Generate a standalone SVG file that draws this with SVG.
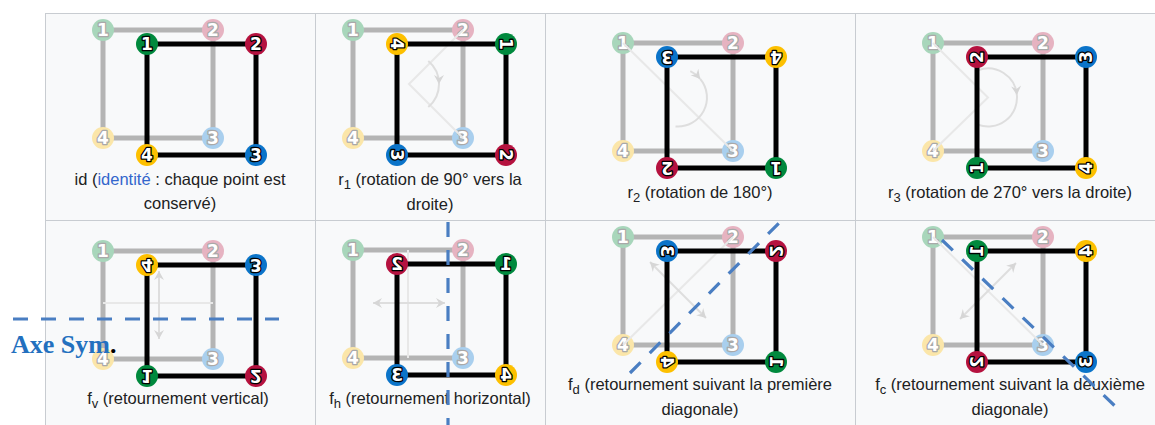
<svg xmlns="http://www.w3.org/2000/svg" width="1155" height="425" viewBox="0 0 1155 425">
<style>
.tb{fill:#f8f9fa;stroke:#c8ccd1;stroke-width:1}
.div{stroke:#c8ccd1;stroke-width:1}
.ge{fill:none;stroke:#b4b4b4;stroke-width:5}
.be{fill:none;stroke:#000;stroke-width:5}
.fl{fill:none;stroke:#e8e8e8;stroke-width:2}
.fa{fill:none;stroke:#dedede;stroke-width:2}
.n1{fill:#00893d}.n2{fill:#b5123f}.n3{fill:#0b74c9}.n4{fill:#fdc000}
.p1{fill:#a8d6bb}.p2{fill:#e6b3c1}.p3{fill:#a9cfee}.p4{fill:#fbe6a9}
.dg{font-family:"DejaVu Sans",sans-serif;font-weight:bold;font-size:17px;fill:#fff;stroke:#000;stroke-width:2.6;stroke-linejoin:round;paint-order:stroke;text-anchor:middle}
.gd{font-family:"DejaVu Sans",sans-serif;font-weight:bold;font-size:17px;fill:#fff;stroke:#a9a9a9;stroke-width:2.6;stroke-linejoin:round;paint-order:stroke;text-anchor:middle}
.cap{font-family:"Liberation Sans",Arial,sans-serif;font-size:16.5px;fill:#202122;text-anchor:middle}
.lnk{fill:#3366cc}
.ax{fill:none;stroke:#4a7ec2;stroke-width:3.2;stroke-dasharray:15 13}
.axt{font-family:"Liberation Serif","Times New Roman",serif;font-weight:bold;font-size:26px}
</style>
<defs>
<marker id="fam" viewBox="-10 -6 12 12" markerWidth="12" markerHeight="12" refX="0" refY="0" orient="auto-start-reverse" markerUnits="userSpaceOnUse"><path d="M0,0 L-9,-5 L-6,0 L-9,5 Z" fill="#d6d6d6"/></marker>
<g id="ghost">
<rect class="ge" x="0" y="0" width="110" height="108"/>
<g transform="translate(0,0)"><circle r="11" class="p1"/><text class="gd" y="6.2">1</text></g>
<g transform="translate(110,0)"><circle r="11" class="p2"/><text class="gd" y="6.2">2</text></g>
<g transform="translate(110,108)"><circle r="11" class="p3"/><text class="gd" y="6.2">3</text></g>
<g transform="translate(0,108)"><circle r="11" class="p4"/><text class="gd" y="6.2">4</text></g>
</g>
</defs>

<g id="table">
<rect class="tb" x="45.5" y="13.5" width="1130" height="420"/>
<line class="div" x1="315.5" y1="13.5" x2="315.5" y2="425"/>
<line class="div" x1="545.5" y1="13.5" x2="545.5" y2="425"/>
<line class="div" x1="855.5" y1="13.5" x2="855.5" y2="425"/>
<line class="div" x1="45.5" y1="220.5" x2="1155" y2="220.5"/>
</g>

<!-- id -->
<g id="cell-id" transform="translate(103,30)">
<use href="#ghost"/>
<g id="id-edges"><rect class="be" x="44" y="14" width="109" height="111"/></g>
<g id="id-1" transform="translate(44,14)"><circle r="11" class="n1"/><text class="dg" y="6.2">1</text></g>
<g id="id-2" transform="translate(153,14)"><circle r="11" class="n2"/><text class="dg" y="6.2">2</text></g>
<g id="id-3" transform="translate(153,125)"><circle r="11" class="n3"/><text class="dg" y="6.2">3</text></g>
<g id="id-4" transform="translate(44,125)"><circle r="11" class="n4"/><text class="dg" y="6.2">4</text></g>
</g>

<!-- r1 -->
<g id="cell-r1" transform="translate(353,30)">
<use href="#ghost"/>
<path class="fl" d="M110,0 L56,54 L110,108"/>
<path class="fa" d="M75.3,31 A30,30 0 0 1 86,54" marker-end="url(#fam)"/>
<path class="fa" d="M86,54 A30,30 0 0 1 75.3,77"/>
<g id="r1-edges"><rect class="be" x="44" y="14" width="109" height="111"/></g>
<g id="r1-4" transform="translate(44,14)"><circle r="11" class="n4"/><text class="dg" y="6.2" transform="rotate(90)">4</text></g>
<g id="r1-1" transform="translate(153,14)"><circle r="11" class="n1"/><text class="dg" y="6.2" transform="rotate(90)">1</text></g>
<g id="r1-2" transform="translate(153,125)"><circle r="11" class="n2"/><text class="dg" y="6.2" transform="rotate(90)">2</text></g>
<g id="r1-3" transform="translate(44,125)"><circle r="11" class="n3"/><text class="dg" y="6.2" transform="rotate(90)">3</text></g>
</g>

<!-- r2 -->
<g id="cell-r2" transform="translate(623,43)">
<use href="#ghost"/>
<path class="fl" d="M0,0 L110,108"/>
<path class="fa" d="M67.3,28.2 A29,29 0 0 1 77.2,35.9" marker-end="url(#fam)"/>
<path class="fa" d="M77.2,35.9 A29,29 0 0 1 52.5,83.4"/>
<g id="r2-edges"><rect class="be" x="44" y="14" width="109" height="111"/></g>
<g id="r2-3" transform="translate(44,14)"><circle r="11" class="n3"/><text class="dg" y="6.2" transform="rotate(180)">3</text></g>
<g id="r2-4" transform="translate(153,14)"><circle r="11" class="n4"/><text class="dg" y="6.2" transform="rotate(180)">4</text></g>
<g id="r2-1" transform="translate(153,125)"><circle r="11" class="n1"/><text class="dg" y="6.2" transform="rotate(180)">1</text></g>
<g id="r2-2" transform="translate(44,125)"><circle r="11" class="n2"/><text class="dg" y="6.2" transform="rotate(180)">2</text></g>
</g>

<!-- r3 -->
<g id="cell-r3" transform="translate(933,43)">
<use href="#ghost"/>
<path class="fl" d="M0,0 L55,54.5 L0,108"/>
<path class="fa" d="M45.1,27.2 A29,29 0 0 1 83.9,52" marker-end="url(#fam)"/>
<path class="fa" d="M83.9,52 A29,29 0 0 1 45.1,81.8"/>
<g id="r3-edges"><rect class="be" x="44" y="14" width="109" height="111"/></g>
<g id="r3-2" transform="translate(44,14)"><circle r="11" class="n2"/><text class="dg" y="6.2" transform="rotate(270)">2</text></g>
<g id="r3-3" transform="translate(153,14)"><circle r="11" class="n3"/><text class="dg" y="6.2" transform="rotate(270)">3</text></g>
<g id="r3-4" transform="translate(153,125)"><circle r="11" class="n4"/><text class="dg" y="6.2" transform="rotate(270)">4</text></g>
<g id="r3-1" transform="translate(44,125)"><circle r="11" class="n1"/><text class="dg" y="6.2" transform="rotate(270)">1</text></g>
</g>

<!-- fv -->
<g id="cell-fv" transform="translate(103,251)">
<use href="#ghost"/>
<path class="fl" d="M0,52 L110,52"/>
<path class="fa" d="M56,20 L56,88" marker-start="url(#fam)" marker-end="url(#fam)"/>
<g id="fv-edges"><rect class="be" x="44" y="14" width="109" height="111"/></g>
<g id="fv-4" transform="translate(44,14)"><circle r="11" class="n4"/><text class="dg" y="6.2" transform="scale(1,-1)">4</text></g>
<g id="fv-3" transform="translate(153,14)"><circle r="11" class="n3"/><text class="dg" y="6.2" transform="scale(1,-1)">3</text></g>
<g id="fv-2" transform="translate(153,125)"><circle r="11" class="n2"/><text class="dg" y="6.2" transform="scale(1,-1)">2</text></g>
<g id="fv-1" transform="translate(44,125)"><circle r="11" class="n1"/><text class="dg" y="6.2" transform="scale(1,-1)">1</text></g>
</g>

<!-- fh -->
<g id="cell-fh" transform="translate(353,250)">
<use href="#ghost"/>
<path class="fl" d="M55,0 L55,108"/>
<path class="fa" d="M20,53 L92,53" marker-start="url(#fam)" marker-end="url(#fam)"/>
<g id="fh-edges"><rect class="be" x="44" y="14" width="109" height="111"/></g>
<g id="fh-2" transform="translate(44,14)"><circle r="11" class="n2"/><text class="dg" y="6.2" transform="scale(-1,1)">2</text></g>
<g id="fh-1" transform="translate(153,14)"><circle r="11" class="n1"/><text class="dg" y="6.2" transform="scale(-1,1)">1</text></g>
<g id="fh-4" transform="translate(153,125)"><circle r="11" class="n4"/><text class="dg" y="6.2" transform="scale(-1,1)">4</text></g>
<g id="fh-3" transform="translate(44,125)"><circle r="11" class="n3"/><text class="dg" y="6.2" transform="scale(-1,1)">3</text></g>
</g>

<!-- fd -->
<g id="cell-fd" transform="translate(623,237)">
<use href="#ghost"/>
<path class="fl" d="M0,108 L110,0"/>
<path class="fa" d="M27,25 L83,81" marker-start="url(#fam)" marker-end="url(#fam)"/>
<g id="fd-edges"><rect class="be" x="44" y="14" width="109" height="111"/></g>
<g id="fd-3" transform="translate(44,14)"><circle r="11" class="n3"/><text class="dg" y="6.2" transform="matrix(0,-1,-1,0,0,0)">3</text></g>
<g id="fd-2" transform="translate(153,14)"><circle r="11" class="n2"/><text class="dg" y="6.2" transform="matrix(0,-1,-1,0,0,0)">2</text></g>
<g id="fd-1" transform="translate(153,125)"><circle r="11" class="n1"/><text class="dg" y="6.2" transform="matrix(0,-1,-1,0,0,0)">1</text></g>
<g id="fd-4" transform="translate(44,125)"><circle r="11" class="n4"/><text class="dg" y="6.2" transform="matrix(0,-1,-1,0,0,0)">4</text></g>
</g>

<!-- fc -->
<g id="cell-fc" transform="translate(933,237)">
<use href="#ghost"/>
<path class="fl" d="M0,0 L110,108"/>
<path class="fa" d="M83,26 L27,82" marker-start="url(#fam)" marker-end="url(#fam)"/>
<g id="fc-edges"><rect class="be" x="44" y="14" width="109" height="111"/></g>
<g id="fc-1" transform="translate(44,14)"><circle r="11" class="n1"/><text class="dg" y="6.2" transform="matrix(0,1,1,0,0,0)">1</text></g>
<g id="fc-4" transform="translate(153,14)"><circle r="11" class="n4"/><text class="dg" y="6.2" transform="matrix(0,1,1,0,0,0)">4</text></g>
<g id="fc-3" transform="translate(153,125)"><circle r="11" class="n3"/><text class="dg" y="6.2" transform="matrix(0,1,1,0,0,0)">3</text></g>
<g id="fc-2" transform="translate(44,125)"><circle r="11" class="n2"/><text class="dg" y="6.2" transform="matrix(0,1,1,0,0,0)">2</text></g>
</g>

<g id="captions" class="cap">
<text x="180" y="185">id (<tspan class="lnk">identité</tspan> : chaque point est</text>
<text x="180" y="209">conservé)</text>
<text x="430" y="185">r<tspan font-size="13" dy="4">1</tspan><tspan dy="-4"> (rotation de 90° vers la</tspan></text>
<text x="430" y="210">droite)</text>
<text x="700" y="198">r<tspan font-size="13" dy="4">2</tspan><tspan dy="-4"> (rotation de 180°)</tspan></text>
<text x="1010" y="198">r<tspan font-size="13" dy="4">3</tspan><tspan dy="-4"> (rotation de 270° vers la droite)</tspan></text>
<text x="178" y="404">f<tspan font-size="13" dy="4">v</tspan><tspan dy="-4"> (retournement vertical)</tspan></text>
<text x="430" y="404">f<tspan font-size="13" dy="4">h</tspan><tspan dy="-4"> (retournement horizontal)</tspan></text>
<text x="700" y="390">f<tspan font-size="13" dy="4">d</tspan><tspan dy="-4"> (retournement suivant la première</tspan></text>
<text x="700" y="415">diagonale)</text>
<text x="1010" y="390">f<tspan font-size="13" dy="4">c</tspan><tspan dy="-4"> (retournement suivant la deuxième</tspan></text>
<text x="1010" y="415">diagonale)</text>
</g>

<g id="axes">
<line class="ax" x1="13" y1="319" x2="279" y2="319"/>
<line class="ax" x1="448" y1="222" x2="448" y2="425"/>
<line class="ax" x1="630" y1="373" x2="780" y2="222"/>
<line class="ax" x1="942" y1="240" x2="1116" y2="407"/>
</g>
<text class="axt" x="11" y="353"><tspan fill="#2370bf">Axe Sym</tspan><tspan fill="#000">.</tspan></text>
</svg>
